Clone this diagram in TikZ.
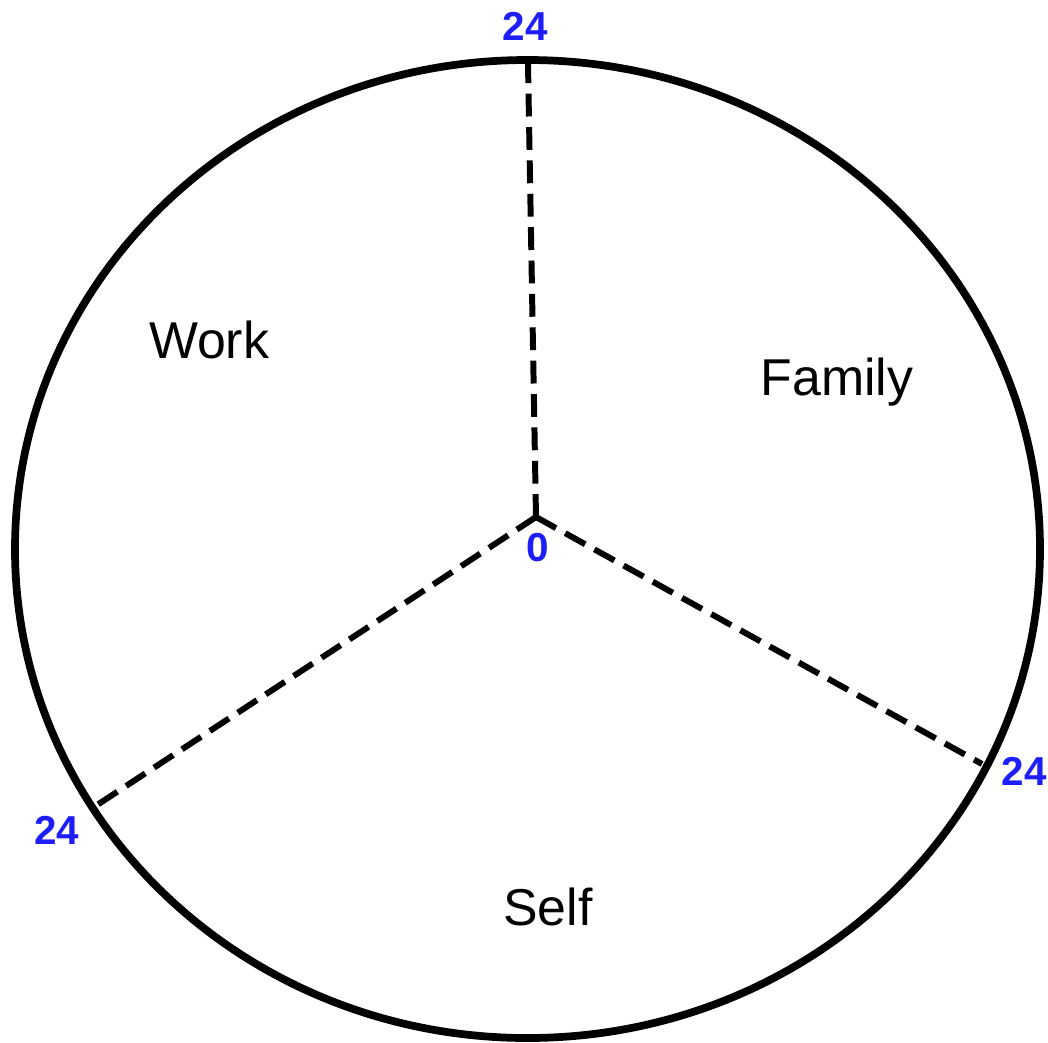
\documentclass[tikz,border=0pt]{standalone}
\usepackage{fontspec}
\setmainfont{Liberation Sans}
\definecolor{hourblue}{RGB}{30,30,250}
\tikzset{
  spoke/.style={line width=3.4pt,dash pattern=on 13pt off 6pt},
  hour/.style={text=hourblue,font=\fontsize{23}{23}\selectfont\bfseries,inner sep=0pt},
  area/.style={font=\fontsize{29.5}{29.5}\selectfont,inner sep=0pt}
}
\begin{document}
\begin{tikzpicture}[x=0.02cm,y=-0.02cm]
\useasboundingbox (0,0) rectangle (1048,1042);
\draw[line width=4.4pt] (527.5,549) ellipse [x radius=512.5,y radius=489];

\coordinate (mid) at (536,517);
\coordinate (top) at (528,64);
\coordinate (right) at (982,764);
\coordinate (left) at (94,807);
\draw[spoke] (mid) -- (top);
\draw[spoke] (mid) -- (right);
\draw[spoke] (mid) -- (left);

\node[hour] (h0) at (538,548) {0};
\node[hour] (htop) at (525,26) {24};
\node[hour] (hright) at (1024,771) {24};
\node[hour] (hleft) at (57,830) {24};

\node[area] (work) at (209,340) {Work};
\node[area] (family) at (837,382) {Family};
\node[area] (self) at (548,907) {Self};
\end{tikzpicture}
\end{document}
